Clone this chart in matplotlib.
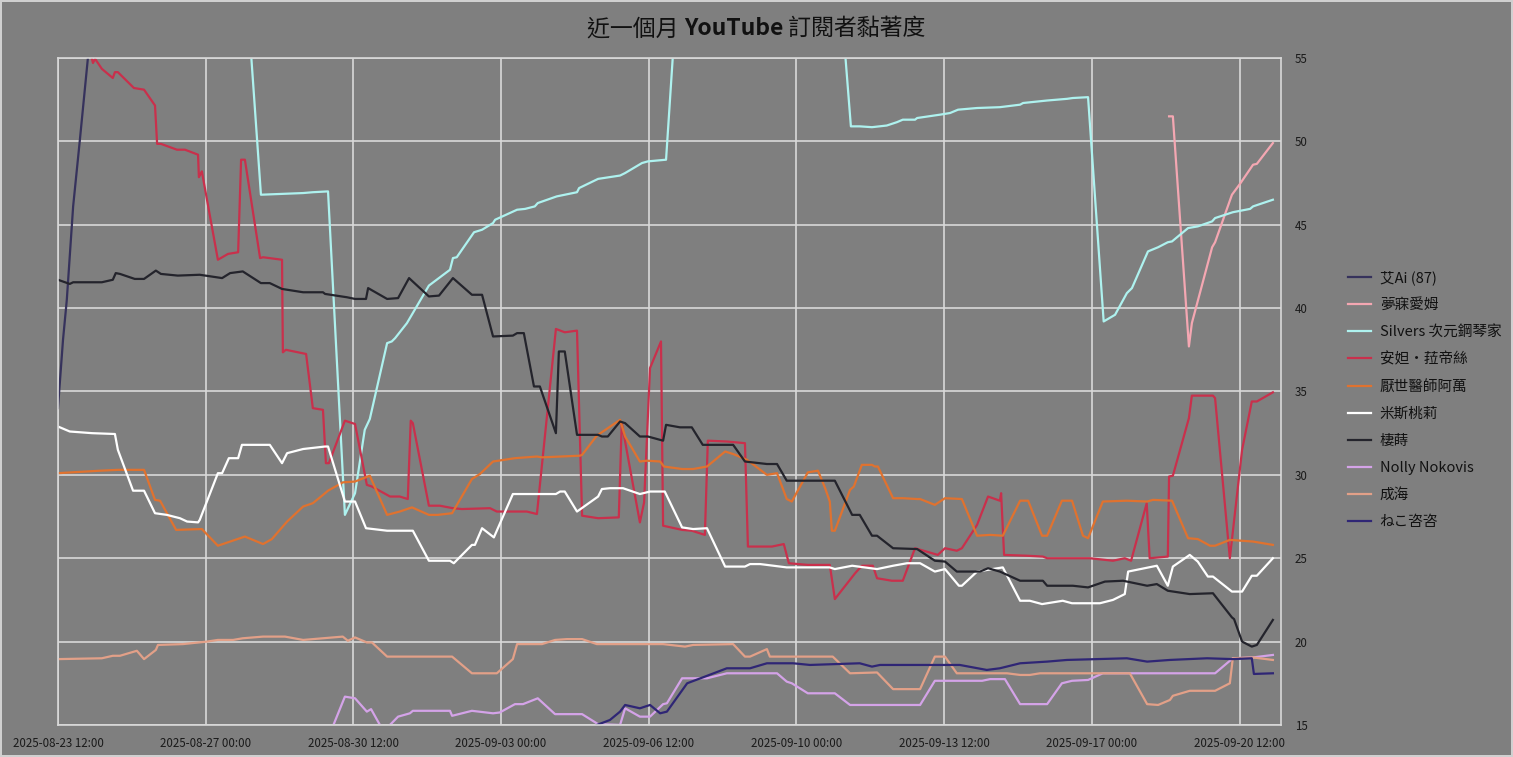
import datetime as dt
import matplotlib
matplotlib.use("Agg")
import matplotlib.pyplot as plt
import matplotlib.dates as mdates
from matplotlib.offsetbox import TextArea, HPacker, AnchoredOffsetbox

plt.rcParams['font.family'] = ['Noto Sans CJK TC', 'DejaVu Sans']

# 起點時間, 各序列時間以「天」為單位
start = dt.datetime(2025, 8, 23, 12, 0)

ai_t = [0, 0.12, 0.21, 0.36, 0.52, 0.71, 0.9]
ai_v = [34.0, 38.1, 40.5, 46.1, 50.1, 55.0, 58.0]

mei_t = [26.33, 26.42, 26.80, 26.87, 27.35, 27.42, 27.82, 28.01, 28.32, 28.41, 28.79]
mei_v = [51.5, 51.5, 37.7, 39.1, 43.65, 43.95, 46.8, 47.45, 48.6, 48.65, 49.9]

silvers_t = [4.5, 4.81, 5.31, 5.81, 6.04, 6.40, 6.80, 7.04, 7.27, 7.39, 7.80, 7.91, 7.99,
             8.27, 8.79, 9.29, 9.36, 9.45, 9.86, 10.05, 10.31, 10.36, 10.88, 11.07, 11.30,
             11.37, 11.82, 12.30, 12.35, 12.80, 13.32, 13.44, 13.84, 13.98, 14.41, 14.62,
             18.6, 18.79, 19.0, 19.29, 19.64, 19.88, 20.02, 20.31, 20.36, 20.90, 21.14,
             21.33, 21.78, 22.32, 22.80, 22.87, 23.44, 23.91, 24.05, 24.41, 24.78, 25.05,
             25.33, 25.45, 25.83, 26.07, 26.30, 26.40, 26.78, 27.01, 27.35, 27.42, 27.84,
             28.25, 28.32, 28.79]
silvers_v = [58.0, 46.8, 46.85, 46.9, 46.95, 47.0, 27.6, 28.9, 32.7, 33.35, 37.9, 38.0, 38.2,
             39.1, 41.35, 42.3, 43.0, 43.05, 44.55, 44.7, 45.1, 45.3, 45.9, 45.95, 46.1,
             46.3, 46.7, 46.95, 47.2, 47.75, 47.95, 48.1, 48.7, 48.8, 48.9, 57.0,
             57.0, 50.9, 50.9, 50.85, 50.95, 51.15, 51.3, 51.3, 51.4, 51.6, 51.7,
             51.9, 52.0, 52.05, 52.2, 52.3, 52.45, 52.55, 52.6, 52.65, 39.2, 39.6,
             40.9, 41.2, 43.4, 43.65, 43.95, 44.0, 44.8, 44.9, 45.2, 45.4, 45.75,
             45.95, 46.1, 46.5]

anna_t = [0.70, 0.83, 0.88, 1.04, 1.30, 1.35, 1.42, 1.80, 2.04, 2.30, 2.35, 2.44, 2.82, 3.01,
          3.32, 3.34, 3.41, 3.79, 4.03, 4.27, 4.34, 4.43, 4.79, 4.86, 5.31, 5.33, 5.40, 5.88,
          6.04, 6.28, 6.35, 6.42, 6.80, 7.04, 7.32, 7.44, 7.87, 8.10, 8.29, 8.36, 8.41, 8.79,
          9.05, 9.36, 9.57, 10.24, 10.40, 11.11, 11.35, 11.80, 12.01, 12.30, 12.42, 12.80,
          13.29, 13.36, 13.79, 13.89, 14.03, 14.29, 14.34, 14.79, 15.02, 15.33, 15.40, 15.85,
          16.28, 16.35, 16.92, 17.20, 17.32, 17.77, 18.29, 18.41, 18.89, 19.05, 19.31, 19.41,
          19.76, 20.02, 20.31, 20.85, 21.02, 21.30, 21.42, 21.78, 22.04, 22.32, 22.35, 22.42,
          22.96, 23.34, 23.44, 24.45, 25.0, 25.28, 25.43, 25.80, 25.87, 26.30, 26.33, 26.42,
          26.80, 26.87, 27.37, 27.42, 27.77, 28.06, 28.29, 28.41, 28.79]
anna_v = [56.0, 54.7, 54.95, 54.35, 53.8, 54.15, 54.15, 53.2, 53.1, 52.15, 49.85, 49.85, 49.5, 49.5,
          49.2, 47.85, 48.2, 42.9, 43.25, 43.35, 48.9, 48.9, 43.0, 43.05, 42.9, 37.35, 37.5, 37.25,
          34.0, 33.9, 30.7, 30.7, 33.25, 33.05, 29.4, 29.3, 28.7, 28.7, 28.55, 33.25, 33.1, 28.15,
          28.15, 28.0, 27.95, 28.0, 27.8, 27.8, 27.65, 38.75, 38.55, 38.65, 27.55, 27.4,
          27.45, 33.1, 27.15, 28.35, 36.4, 38.0, 26.95, 26.7, 26.65, 26.4, 32.05, 32.0,
          31.9, 25.7, 25.7, 25.85, 24.7, 24.6, 24.6, 22.55, 24.1, 24.55, 24.55, 23.8,
          23.65, 23.65, 25.6, 25.2, 25.6, 25.45, 25.6, 27.0, 28.7, 28.45, 28.9, 25.2,
          25.15, 25.1, 25.0, 25.0, 24.85, 25.0, 24.85, 28.3, 25.0, 25.1, 29.9, 29.95,
          33.4, 34.75, 34.75, 34.6, 25.0, 31.5, 34.4, 34.4, 34.95]

wan_t = [0, 0.33, 1.0, 1.42, 2.04, 2.30, 2.42, 2.80, 3.41, 3.79, 4.43, 4.86, 5.07, 5.43, 5.81,
         6.04, 6.33, 6.40, 6.75, 7.04, 7.39, 7.80, 8.10, 8.39, 8.79, 9.0, 9.34, 9.81, 10.0,
         10.31, 10.83, 11.35, 11.47, 12.37, 12.42, 12.77, 13.32, 13.44, 13.79, 13.96, 14.27,
         14.36, 14.79, 15.05, 15.38, 15.81, 16.0, 16.33, 16.80, 17.04, 17.27, 17.39, 17.77,
         18.01, 18.18, 18.29, 18.34, 18.41, 18.77, 18.86, 19.05, 19.29, 19.36, 19.43, 19.79,
         20.02, 20.36, 20.43, 20.78, 21.02, 21.42, 21.78, 22.09, 22.39, 22.80, 22.99, 23.32,
         23.44, 23.79, 24.03, 24.29, 24.41, 24.76, 25.33, 25.81, 25.95, 26.40, 26.78, 27.01,
         27.30, 27.42, 27.77, 28.32, 28.79]
wan_v = [30.1, 30.15, 30.25, 30.3, 30.3, 28.5, 28.45, 26.7, 26.75, 25.75, 26.3, 25.85, 26.15, 27.2, 28.1,
         28.3, 28.9, 29.05, 29.55, 29.6, 29.95, 27.6, 27.8, 28.05, 27.6, 27.6, 27.7, 29.75, 30.05,
         30.8, 31.0, 31.1, 31.05, 31.15, 31.2, 32.35, 33.3, 32.3, 30.8, 30.85, 30.8,
         30.5, 30.35, 30.35, 30.5, 31.4, 31.25, 30.9, 30.0, 30.1, 28.55, 28.4, 30.15,
         30.25, 29.2, 28.4, 26.65, 26.65, 29.1, 29.3, 30.6, 30.6, 30.5, 30.5, 28.6,
         28.6, 28.55, 28.55, 28.2, 28.6, 28.55, 26.35, 26.4, 26.35, 28.45, 28.45, 26.35,
         26.35, 28.45, 28.45, 26.35, 26.2, 28.4, 28.45, 28.4, 28.5, 28.45, 26.2, 26.15,
         25.75, 25.75, 26.1, 26.0, 25.8]

mis_t = [0, 0.28, 0.81, 1.35, 1.42, 1.78, 2.04, 2.30, 2.58, 2.89, 3.06, 3.32, 3.36, 3.79, 3.89,
         4.05, 4.27, 4.36, 5.02, 5.31, 5.43, 5.81, 6.33, 6.40, 6.80, 7.04, 7.30, 7.80, 8.41,
         8.79, 9.29, 9.38, 9.81, 9.88, 10.05, 10.33, 10.78, 11.80, 11.90, 12.01, 12.30, 12.80,
         12.89, 13.08, 13.39, 13.79, 14.03, 14.38, 14.79, 15.05, 15.38, 15.81, 16.28, 16.40,
         16.64, 17.27, 18.29, 18.41, 18.82, 19.41, 19.79, 20.12, 20.43, 20.78, 21.02, 21.35,
         21.42, 21.78, 22.39, 22.80, 23.03, 23.32, 23.81, 24.03, 24.69, 25.0, 25.28, 25.36,
         26.04, 26.30, 26.42, 26.82, 27.01, 27.25, 27.37, 27.82, 28.06, 28.29, 28.41, 28.79]
mis_v = [32.9, 32.6, 32.5, 32.45, 31.5, 29.05, 29.05, 27.7, 27.6, 27.4, 27.2, 27.15, 27.3, 30.1, 30.1,
         31.0, 31.0, 31.8, 31.8, 30.7, 31.3, 31.55, 31.7, 31.7, 28.4, 28.4, 26.8, 26.65, 26.65,
         24.85, 24.85, 24.7, 25.8, 25.8, 26.8, 26.25, 28.85, 28.85, 29.0, 29.0, 27.8, 28.7,
         29.15, 29.2, 29.2, 28.85, 29.0, 29.0, 26.85, 26.75, 26.8, 24.5, 24.5, 24.65,
         24.65, 24.45, 24.45, 24.35, 24.55, 24.35, 24.55, 24.7, 24.7, 24.2, 24.35, 23.35,
         23.35, 24.2, 24.45, 22.45, 22.45, 22.25, 22.45, 22.3, 22.3, 22.5, 22.85, 24.2,
         24.55, 23.35, 24.5, 25.2, 24.8, 23.9, 23.9, 23.0, 23.0, 23.95, 23.95, 25.0]

qi_t = [0, 0.28, 0.36, 1.04, 1.30, 1.37, 1.47, 1.82, 2.04, 2.32, 2.44, 2.84, 3.36, 3.89, 4.08,
        4.38, 4.81, 5.02, 5.31, 5.81, 6.28, 6.33, 6.85, 7.04, 7.30, 7.35, 7.80, 8.06, 8.32,
        8.79, 9.03, 9.36, 9.81, 10.05, 10.31, 10.78, 10.88, 11.04, 11.28, 11.42, 11.80, 11.87,
        12.01, 12.30, 12.80, 12.89, 13.03, 13.32, 13.44, 13.79, 13.98, 14.34, 14.41, 14.74,
        15.02, 15.28, 16.0, 16.28, 16.80, 17.04, 17.27, 18.41, 18.82, 19.0, 19.29, 19.41,
        19.79, 20.36, 20.78, 21.02, 21.30, 21.85, 22.04, 22.32, 22.80, 23.34, 23.44, 24.05,
        24.41, 24.81, 25.24, 25.81, 26.04, 26.30, 26.82, 27.37, 27.82, 27.87, 28.06, 28.29,
        28.41, 28.79]
qi_v = [41.7, 41.45, 41.55, 41.55, 41.7, 42.1, 42.05, 41.75, 41.75, 42.25, 42.05, 41.95, 42.0, 41.8, 42.1,
        42.2, 41.5, 41.5, 41.15, 40.95, 40.95, 40.85, 40.65, 40.55, 40.55, 41.2, 40.55, 40.6, 41.8,
        40.7, 40.75, 41.8, 40.8, 40.8, 38.3, 38.35, 38.5, 38.5, 35.3, 35.3, 32.5, 37.4,
        37.4, 32.4, 32.4, 32.3, 32.3, 33.2, 33.1, 32.3, 32.3, 32.05, 33.0, 32.85,
        32.85, 31.8, 31.8, 30.8, 30.65, 30.65, 29.65, 29.65, 27.6, 27.6, 26.35, 26.35,
        25.6, 25.55, 24.85, 24.8, 24.2, 24.2, 24.4, 24.2, 23.65, 23.65, 23.35, 23.35,
        23.25, 23.6, 23.65, 23.35, 23.45, 23.05, 22.85, 22.9, 21.45, 21.35, 20.0, 19.7,
        19.8, 21.3]

nolly_t = [6.40, 6.80, 7.04, 7.32, 7.42, 7.63, 7.75, 8.06, 8.34, 8.41, 9.29, 9.34, 9.81, 10.31,
           10.47, 10.83, 11.02, 11.37, 11.78, 12.42, 12.80, 13.32, 13.44, 13.79, 14.03, 14.34,
           14.43, 14.79, 15.38, 15.85, 17.04, 17.27, 17.39, 17.77, 18.41, 18.77, 20.43, 20.78,
           21.90, 22.09, 22.44, 22.80, 23.44, 23.79, 24.03, 24.41, 24.76, 27.42, 27.84, 28.32,
           28.79]
nolly_v = [14.2, 16.7, 16.6, 15.8, 15.95, 15.0, 14.7, 15.5, 15.7, 15.85, 15.85, 15.55, 15.85, 15.7,
           15.75, 16.25, 16.25, 16.6, 15.65, 15.65, 15.05, 15.0, 16.0, 15.5, 15.5, 16.25,
           16.3, 17.8, 17.8, 18.1, 18.1, 17.6, 17.5, 16.9, 16.9, 16.2, 16.2, 17.65,
           17.65, 17.75, 17.75, 16.25, 16.25, 17.5, 17.65, 17.7, 18.1, 18.1, 19.0, 19.05,
           19.2]

sea_t = [0, 1.04, 1.30, 1.47, 1.87, 2.04, 2.32, 2.37, 2.96, 3.53, 3.79, 4.15, 4.38, 4.86, 5.38,
         5.81, 6.75, 6.87, 7.04, 7.32, 7.44, 7.80, 9.34, 9.81, 10.40, 10.78, 10.88, 11.47, 11.78,
         12.06, 12.42, 12.77, 14.34, 14.86, 15.05, 16.0, 16.28, 16.40, 16.80, 16.87, 18.36,
         18.77, 19.41, 19.79, 20.43, 20.78, 21.02, 21.30, 22.49, 22.80, 23.03, 23.27, 25.40,
         25.81, 26.07, 26.35, 26.42, 26.82, 27.42, 27.77, 27.84, 28.32, 28.79]
sea_v = [18.95, 19.0, 19.15, 19.15, 19.45, 18.95, 19.5, 19.8, 19.85, 20.0, 20.1, 20.1, 20.2, 20.3, 20.3,
         20.1, 20.3, 20.05, 20.25, 19.95, 19.95, 19.1, 19.1, 18.1, 18.1, 18.95, 19.85, 19.85, 20.1,
         20.15, 20.15, 19.85, 19.85, 19.7, 19.8, 19.85, 19.1, 19.1, 19.55, 19.1, 19.1,
         18.1, 18.15, 17.15, 17.15, 19.1, 19.1, 18.1, 18.1, 18.0, 18.0, 18.1, 18.1,
         16.25, 16.2, 16.5, 16.75, 17.05, 17.05, 17.5, 19.0, 19.05, 18.9]

neko_t = [12.65, 12.77, 13.08, 13.32, 13.44, 13.79, 14.03, 14.27, 14.43, 14.91, 15.33, 15.85,
          16.40, 16.80, 17.42, 17.82, 19.0, 19.29, 19.48, 21.37, 22.01, 22.32, 22.80, 23.44,
          23.91, 25.33, 25.81, 26.35, 27.23, 27.84, 28.29, 28.34, 28.79]
neko_v = [14.8, 15.0, 15.3, 15.8, 16.2, 16.0, 16.2, 15.7, 15.8, 17.5, 17.9, 18.4,
          18.4, 18.7, 18.7, 18.6, 18.7, 18.5, 18.6, 18.6, 18.3, 18.4, 18.7, 18.8,
          18.9, 19.0, 18.8, 18.9, 19.0, 18.95, 19.0, 18.06, 18.1]

names = ['艾Ai (87)', '夢寐愛姆', 'Silvers 次元鋼琴家', '安妲·菈帝絲', '厭世醫師阿萬',
         '米斯桃莉', '棲蒔', 'Nolly Nokovis', '成海', 'ねこ咨咨']
times = [ai_t, mei_t, silvers_t, anna_t, wan_t, mis_t, qi_t, nolly_t, sea_t, neko_t]
values = [ai_v, mei_v, silvers_v, anna_v, wan_v, mis_v, qi_v, nolly_v, sea_v, neko_v]
colors = ['#36325c', '#f4a7b2', '#aef2ef', '#c9304c', '#e0722f',
          '#ffffff', '#24242c', '#d4a3e8', '#e2a088', '#2f2675']

bg = '#7f7f7f'
fig = plt.figure(figsize=(15.13, 7.57), dpi=100, facecolor=bg)
fig.patch.set_edgecolor('#d0d0d0')
fig.patch.set_linewidth(1.5)
ax = fig.add_axes([0.0383, 0.0423, 0.8083, 0.8811], facecolor=bg)

for name, t, v, c in zip(names, times, values, colors):
    x = [start + dt.timedelta(days=d) for d in t]
    ax.plot(x, v, color=c, lw=1.6, label=name)

ax.set_ylim(15, 55)
ax.set_xlim(start, start + dt.timedelta(days=28.98))
ax.set_yticks(range(15, 56, 5))
ax.set_xticks([start + dt.timedelta(days=3.5 * k) for k in range(9)])
ax.xaxis.set_major_formatter(mdates.DateFormatter('%Y-%m-%d %H:%M'))
ax.yaxis.tick_right()
ax.tick_params(axis='both', length=0, colors='#1a1a1a', labelsize=8.3)
ax.tick_params(axis='x', pad=9)
ax.tick_params(axis='y', pad=10)
for lbl in ax.get_yticklabels():
    lbl.set_horizontalalignment('left')
ax.grid(True, color='#d9d9d9', lw=1.2)
ax.set_axisbelow(True)
for s in ax.spines.values():
    s.set_color('#d9d9d9')
    s.set_linewidth(1.2)

# 標題: YouTube 粗體
parts = [TextArea('近一個月 ', textprops=dict(fontsize=16.5, color='#111111')),
         TextArea('YouTube', textprops=dict(fontsize=16.5, color='#111111', fontweight='bold')),
         TextArea(' 訂閱者黏著度', textprops=dict(fontsize=16.5, color='#111111'))]
box = HPacker(children=parts, align='baseline', pad=0, sep=0)
anchored = AnchoredOffsetbox(loc='center', child=box, frameon=False,
                             bbox_to_anchor=(0.5, 0.962), bbox_transform=fig.transFigure,
                             borderpad=0)
fig.add_artist(anchored)

fig.legend(loc='center left', bbox_to_anchor=(0.882, 0.472), frameon=False,
           fontsize=10.5, handlelength=1.6, handletextpad=0.6, labelspacing=0.9,
           labelcolor='#111111')

fig.savefig('out.png', dpi=100, facecolor=bg, edgecolor='#d0d0d0')
